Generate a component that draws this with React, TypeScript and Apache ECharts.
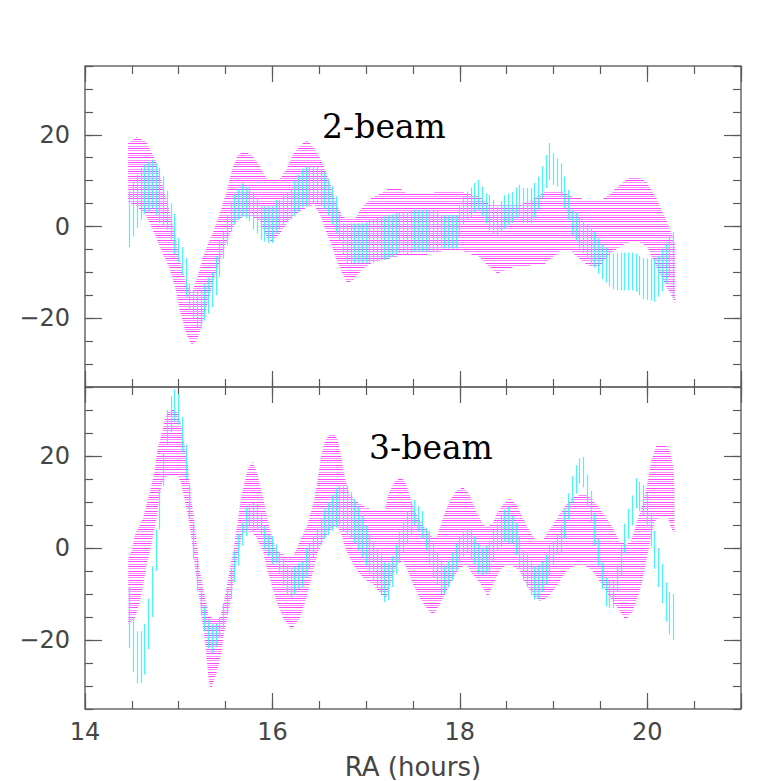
import React, { useEffect, useRef } from "react";
import * as echarts from "echarts";

// ---------------- axes / texts ----------------
const X_MIN = 14;
const X_MAX = 21;
const Y_MIN = -35;
const Y_MAX = 35;
const X_LABEL_TICKS = [14, 16, 18, 20];
const Y_LABEL_TICKS = [-20, 0, 20];
const PANEL_TITLES = ["2-beam", "3-beam"];
const X_AXIS_NAME = "RA (hours)";

// ---------------- magenta band, top panel (2-beam) ----------------
const TOP_BAND_X = [14.46, 14.55, 14.65, 14.75, 14.82, 14.89, 14.96, 15.01, 15.08, 15.14, 15.2, 15.26, 15.32, 15.37, 15.44, 15.51, 15.57, 15.63, 15.69, 15.78, 15.87, 15.94, 16.0, 16.08, 16.15, 16.22, 16.31, 16.37, 16.45, 16.52, 16.58, 16.63, 16.68, 16.74, 16.8, 16.87, 16.95, 17.05, 17.15, 17.25, 17.35, 17.45, 17.6, 17.8, 18.0, 18.2, 18.3, 18.4, 18.5, 18.6, 18.75, 18.9, 19.0, 19.1, 19.2, 19.3, 19.4, 19.5, 19.6, 19.7, 19.8, 19.9, 20.0, 20.1, 20.2, 20.27, 20.3];
const TOP_BAND_UPPER = [18.0, 19.6, 18.4, 14.6, 9.5, 4.4, -1.5, -7.0, -12.5, -14.5, -11, -6.5, -3.5, -1, 3, 7.5, 12.5, 15.5, 16.5, 15.6, 13, 10.5, 10.2, 10.5, 12.4, 15.9, 17.8, 18.7, 17, 14.5, 11.5, 8.5, 5, 2.5, 1.5, 1.5, 4, 6, 7.2, 8.3, 8.3, 7.2, 7.0, 7.8, 7.8, 6.5, 5.0, 4.5, 4.5, 4.5, 5.5, 7.5, 7.8, 7.5, 6.5, 6.0, 5.5, 5.5, 7.0, 9.0, 10.5, 10.9, 9.5, 6, 1.5, -2, -4];
const TOP_BAND_LOWER = [5.3, 4.5, 2.5, -2.0, -5.5, -8.5, -13, -18.2, -23.4, -25.9, -24.5, -20.5, -16, -12, -7.5, -3.5, -0.5, 1.5, 2.2, 2.2, 1, -2.5, -3.3, -1.5, 0.5, 2.2, 3.5, 4.3, 4.6, 2, -1.5, -4, -7, -10, -12.4, -11.5, -9.5, -8.0, -7.5, -7.0, -6.4, -6.2, -6.2, -5.5, -5.2, -6.5, -8.5, -10.2, -9.3, -8.8, -8.5, -8.2, -6.5, -5.0, -5.5, -7.5, -8.8, -8.5, -6, -4.5, -3.5, -3.2, -4.5, -9, -13, -15.5, -17];

// ---------------- magenta band, bottom panel (3-beam) ----------------
const BOT_UPPER_X = [14.462, 14.497, 14.533, 14.622, 14.664, 14.711, 14.746, 14.771, 14.817, 14.853, 14.888, 14.942, 14.995, 15.03, 15.048, 15.084, 15.101, 15.119, 15.137, 15.162, 15.183, 15.201, 15.219, 15.254, 15.29, 15.315, 15.368, 15.439, 15.482, 15.517, 15.546, 15.581, 15.606, 15.635, 15.659, 15.695, 15.741, 15.787, 15.83, 15.866, 15.908, 15.944, 15.99, 16.043, 16.15, 16.221, 16.292, 16.363, 16.434, 16.487, 16.523, 16.559, 16.612, 16.658, 16.701, 16.736, 16.772, 16.825, 16.896, 17.003, 17.109, 17.198, 17.234, 17.305, 17.376, 17.429, 17.483, 17.536, 17.625, 17.713, 17.749, 17.82, 17.891, 17.962, 18.033, 18.104, 18.175, 18.246, 18.3, 18.353, 18.389, 18.46, 18.531, 18.602, 18.673, 18.744, 18.815, 18.886, 18.922, 18.993, 19.064, 19.135, 19.206, 19.277, 19.348, 19.419, 19.49, 19.561, 19.632, 19.703, 19.775, 19.828, 19.881, 19.952, 20.006, 20.041, 20.094, 20.183, 20.237, 20.272, 20.29];
const BOT_UPPER_Y = [-2.1, -0.7, 2.9, 6.6, 10.2, 13.8, 17.4, 21.1, 24.7, 28.3, 29.7, 30.1, 29.4, 26.1, 23.9, 20.3, 17.4, 13.8, 10.2, 6.6, 2.9, -0.7, -4.3, -7.9, -11.6, -14.5, -15.2, -15.2, -11.6, -7.9, -4.3, -0.7, 2.9, 6.6, 10.2, 13.8, 17.4, 18.7, 16.7, 13.8, 10.2, 6.6, 2.9, -0.7, -1.8, -1.8, 1.5, 4.5, 9.5, 15.3, 20.3, 23.2, 24.7, 24.9, 23.2, 19.6, 15.3, 11.6, 10.2, 8.7, 8.0, 8.0, 11.6, 14.5, 15.5, 13.8, 10.2, 7.3, 4.4, 2.2, 2.2, 6.6, 10.2, 12.4, 13.3, 11.6, 8.0, 5.1, 4.8, 5.5, 7.3, 9.5, 10.9, 9.5, 6.6, 3.7, 1.5, 1.5, 2.9, 5.1, 7.3, 9.5, 10.9, 11.6, 11.6, 10.5, 8.7, 6.6, 4.4, 1.5, 0.8, 1.5, 5.1, 9.5, 14.5, 18.9, 22.1, 22.5, 21.4, 18.2, 13.8];
const BOT_LOWER_X = [14.462, 14.533, 14.586, 14.622, 14.65, 14.693, 14.728, 14.764, 14.792, 14.817, 14.853, 14.888, 14.995, 15.03, 15.066, 15.101, 15.13, 15.155, 15.173, 15.197, 15.226, 15.244, 15.269, 15.29, 15.308, 15.325, 15.35, 15.421, 15.457, 15.482, 15.517, 15.553, 15.581, 15.606, 15.642, 15.677, 15.723, 15.812, 15.901, 15.937, 15.99, 16.043, 16.114, 16.203, 16.292, 16.363, 16.434, 16.487, 16.541, 16.612, 16.683, 16.736, 16.79, 16.861, 16.967, 17.074, 17.163, 17.216, 17.269, 17.323, 17.394, 17.447, 17.5, 17.571, 17.642, 17.713, 17.785, 17.856, 17.927, 17.998, 18.069, 18.14, 18.211, 18.264, 18.3, 18.353, 18.424, 18.495, 18.566, 18.637, 18.708, 18.78, 18.851, 18.922, 18.993, 19.064, 19.135, 19.206, 19.277, 19.348, 19.419, 19.49, 19.561, 19.632, 19.703, 19.768, 19.846, 19.917, 19.97, 20.023, 20.077, 20.148, 20.219, 20.254, 20.29];
const BOT_LOWER_Y = [-16.6, -15.2, -11.6, -7.9, -4.3, -0.7, 2.9, 6.6, 10.2, 13.8, 15.3, 15.6, 15.6, 13.8, 10.2, 6.6, 2.9, -0.7, -4.3, -7.9, -11.6, -15.2, -18.8, -22.4, -26.0, -29.7, -30.4, -26.0, -22.4, -18.8, -15.2, -11.6, -7.9, -4.3, -0.7, 2.9, 3.7, 2.9, -0.7, -4.3, -7.9, -11.6, -15.2, -17.7, -15.2, -10.8, -5.0, -0.7, 1.5, 3.7, 5.1, 2.9, -0.7, -3.6, -6.5, -7.9, -10.1, -10.8, -7.2, -3.6, -2.9, -5.0, -7.9, -10.8, -13.0, -14.5, -12.3, -9.4, -6.5, -4.3, -3.6, -5.8, -7.5, -9.4, -10.5, -7.9, -5.0, -3.6, -3.9, -5.0, -7.9, -10.1, -11.6, -10.9, -9.4, -7.2, -5.0, -4.0, -4.0, -4.0, -5.0, -7.2, -9.4, -11.6, -13.7, -15.5, -13.7, -9.4, -5.0, 0.8, 5.8, 6.9, 6.5, 4.4, 2.9];

// ---------------- cyan error bars (x = CYAN_START + i * CYAN_STEP) ----------------
const CYAN_START = 14.48;
const CYAN_STEP = 0.04;
const TOP_CYAN_HI = [7.8, 9.8, 11.3, 12.8, 13.6, 14.1, 14.6, 13.8, 12.8, 11.0, 7.8, 5.1, 2.8, -2.5, -4.5, -6.9, -12.4, -13.9, -13.9, -14.0, -12.5, -11.2, -10.0, -6.5, -3.2, -1.2, 2.5, 5.3, 7.0, 8.2, 9.4, 8.6, 8.3, 7.3, 6.0, 4.4, 4.4, 4.4, 4.4, 5.8, 5.8, 6.8, 7.3, 8.0, 10.0, 11.3, 12.6, 13.1, 13.1, 13.1, 13.1, 12.5, 11.9, 10.4, 8.8, 6.6, 2.9, 0.7, 0.7, 0.7, 0.7, 0.7, 0.7, 0.9, 1.4, 1.4, 1.8, 2.2, 2.2, 2.5, 2.6, 2.9, 3.0, 3.1, 3.2, 3.5, 3.6, 3.6, 3.6, 3.6, 3.6, 3.6, 3.4, 2.5, 2.5, 2.5, 2.5, 2.5, 4.7, 6.5, 7.6, 8.5, 9.5, 10.2, 8.7, 7.2, 6.9, 5.8, 4.3, 5.5, 6.8, 7.2, 7.5, 8.5, 9.1, 8.4, 8.4, 8.4, 9.5, 10.9, 13.1, 15.6, 18.2, 16.0, 14.9, 13.8, 10.9, 8.0, 3.6, 3.2, 2.0, 1.2, 0.5, -0.3, -1.2, -2.6, -3.8, -4.6, -5.4, -6.0, -5.9, -5.7, -5.7, -5.7, -5.7, -5.9, -6.4, -6.9, -7.0, -7.0, -7.0, -6.4, -5.0, -3.7, -1.9, -1.2];
const TOP_CYAN_LO = [-4.5, -2.2, -0.3, 1.5, 2.8, 3.2, 4.0, 2.5, 0.7, 0, -0.7, -2.9, -6.0, -7.8, -10.5, -15.3, -18.2, -20.0, -22.0, -22.3, -20.5, -19.0, -17.6, -15.0, -11.0, -7.0, -4.0, -1.0, 0.5, 1.4, 2.1, 1.8, 1.2, -0.7, -1.5, -2.9, -3.3, -3.6, -3.6, -1.5, -0.7, 0.2, 0.9, 1.6, 2.2, 3.2, 4.2, 4.4, 4.8, 5.0, 5.1, 4.4, 3.7, 2.4, 0.5, -1.5, -2.9, -6.0, -8.0, -8.0, -8.0, -8.0, -8.0, -8.0, -8.0, -8.0, -7.6, -7.3, -7.3, -7.0, -6.6, -6.0, -5.8, -5.8, -6.0, -5.8, -5.5, -5.5, -5.5, -5.5, -5.5, -5.5, -5.3, -4.8, -4.8, -4.8, -4.8, -4.8, -2.2, 0.5, 1.4, 2.0, 3.0, 3.6, 2.2, 0.7, -0.8, -1.5, -2.2, -1.2, -0.5, 0.3, 0.8, 1.8, 2.2, 0.7, 0.7, 0.7, 1.8, 3.6, 6.2, 8.4, 10.2, 9.1, 8.7, 6.5, 4.0, 1.4, -1.9, -3.2, -4.8, -5.8, -6.8, -8.3, -9.0, -10.3, -11.5, -12.2, -13.0, -13.7, -13.9, -13.9, -13.9, -13.9, -13.9, -14.2, -15.0, -15.8, -16.0, -16.2, -16.4, -15.3, -14.1, -12.4, -11.0, -15.5];
const BOT_CYAN_HI = [-8.5, -15.0, -18.1, -18.1, -16.5, -11.0, -4.0, 4.0, 13.0, 20.5, 30.0, 33.0, 34.5, 33.5, 28.5, 22.5, 13.5, 5.5, -2.0, -8.5, -12.6, -15.6, -16.6, -16.4, -15.0, -12.0, -8.5, -4.5, -0.7, 3.0, 5.4, 8.8, 9.5, 9.8, 9.5, 7.3, 4.8, 2.9, 2.6, 0.8, -0.8, -1.8, -3.8, -4.3, -4.0, -3.3, -2.9, 0.0, 1.0, 2.6, 4.2, 6.5, 8.4, 10.0, 11.6, 13.1, 13.4, 13.4, 13.6, 12.1, 10.6, 9.0, 7.0, 4.9, 3.0, 1.5, 0.0, -1.6, -3.1, -3.2, -1.7, 0.7, 3.4, 5.6, 8.0, 10.2, 10.4, 9.1, 8.0, 4.4, 3.8, 1.0, -0.8, -3.0, -3.8, -2.8, -1.0, 1.0, 2.5, 3.4, 4.2, 3.8, 2.4, 1.0, 0.0, 0.5, 1.6, 3.9, 5.2, 7.0, 8.3, 9.0, 7.0, 5.5, 2.5, -0.5, -1.6, -3.2, -4.0, -3.8, -3.0, -1.5, 0.6, 1.5, 3.0, 5.2, 8.4, 11.9, 15.6, 18.0, 19.5, 19.8, 16.0, 12.4, 7.5, 2.0, -3.2, -6.5, -7.2, -7.2, -3.8, 0.3, 5.3, 8.5, 11.4, 15.2, 14.4, 13.7, 12.0, 7.6, 3.8, 0.0, -3.5, -7.5, -9.6, -10.0];
const BOT_CYAN_LO = [-21.8, -27.0, -29.5, -29.3, -27.5, -22.0, -15.0, -5.0, 4.0, 13.5, 22.5, 25.2, 27.5, 26.8, 20.8, 15.0, 6.5, -2.3, -9.3, -14.7, -18.0, -21.8, -22.8, -21.3, -19.5, -17.6, -14.5, -11.0, -7.4, -3.8, 0.5, 2.6, 5.0, 3.7, 4.0, 2.9, -0.3, -1.8, -3.5, -3.3, -5.5, -8.3, -10.3, -10.8, -10.2, -9.0, -8.5, -6.5, -4.5, -2.0, -0.2, 0.7, 2.0, 2.8, 3.7, 4.4, 5.1, 3.6, 2.8, 2.0, 1.1, -0.4, -1.9, -3.8, -5.7, -7.2, -8.7, -10.3, -11.8, -11.3, -8.5, -5.6, -3.2, -0.9, 0.8, 2.9, 5.0, 3.7, 2.0, -0.5, -3.5, -6.3, -8.0, -10.0, -10.0, -8.6, -7.1, -4.9, -3.2, -1.8, -0.9, -2.5, -3.5, -5.6, -5.8, -5.5, -5.6, -3.0, -0.6, 0.3, 1.4, 1.0, 1.0, -1.5, -4.5, -7.0, -8.5, -10.3, -11.2, -11.0, -9.6, -8.0, -6.0, -3.6, -1.4, -1.2, 2.0, 6.2, 9.8, 11.9, 14.0, 13.2, 9.2, 5.5, 0.6, -3.8, -9.0, -12.7, -13.0, -13.0, -9.5, -5.8, -1.1, 2.0, 4.9, 8.6, 8.0, 7.2, 4.7, 0.3, -4.5, -8.5, -12.0, -16.0, -18.8, -20.0];

// ---------------- styling ----------------
const HATCH_STEP = 0.5; // data units between horizontal hatch lines
const MAGENTA = "#ff3cff";
const CYAN = "#38f2ff";
const FRAME = "#6a6a6a";
const TICK = "#5a5a5a";
const LABEL = "#454545";
const SANS = '"DejaVu Sans", "Liberation Sans", sans-serif';
const SERIF = '"DejaVu Serif", "Liberation Serif", serif';

function cyanX(i: number) {
  return Math.round((CYAN_START + i * CYAN_STEP) * 1000) / 1000;
}

function bandRenderer(ux: number[], uy: number[], lx: number[], ly: number[]) {
  return (params: any, api: any) => {
    if (params.dataIndex !== 0) return null;
    const pts: number[][] = [];
    for (let i = 0; i < ux.length; i++) pts.push(api.coord([ux[i], uy[i]]));
    for (let i = lx.length - 1; i >= 0; i--) pts.push(api.coord([lx[i], ly[i]]));
    const vmin = Math.min(...ly, ...uy);
    const vmax = Math.max(...ly, ...uy);
    const k0 = Math.ceil(vmin / HATCH_STEP);
    const k1 = Math.floor(vmax / HATCH_STEP);
    const children: any[] = [];
    for (let k = k0; k <= k1; k++) {
      const v = k * HATCH_STEP;
      const yPx = api.coord([X_MIN, v])[1];
      const ySnap = Math.round(yPx - 0.5) + 0.5;
      const xs: number[] = [];
      for (let i = 0; i < pts.length; i++) {
        const a = pts[i];
        const b = pts[(i + 1) % pts.length];
        if ((a[1] <= yPx && b[1] > yPx) || (b[1] <= yPx && a[1] > yPx)) {
          xs.push(a[0] + ((yPx - a[1]) * (b[0] - a[0])) / (b[1] - a[1]));
        }
      }
      xs.sort((p, q) => p - q);
      for (let j = 0; j + 1 < xs.length; j += 2) {
        children.push({
          type: "line",
          shape: { x1: xs[j], y1: ySnap, x2: xs[j + 1], y2: ySnap },
          style: { stroke: MAGENTA, lineWidth: 1, opacity: k % 2 === 0 ? 0.95 : 0.6 },
        });
      }
    }
    return { type: "group", children };
  };
}

function barRenderer(params: any, api: any) {
  const x = api.value(0);
  const p1 = api.coord([x, api.value(1)]);
  const p2 = api.coord([x, api.value(2)]);
  const xs = Math.round(p1[0] - 0.5) + 0.5;
  return {
    type: "line",
    shape: { x1: xs, y1: p1[1], x2: xs, y2: p2[1] },
    style: { stroke: CYAN, lineWidth: 1.2, opacity: 0.9 },
  };
}

function makeXAxes(grid: number, withLabels: boolean) {
  const list: any[] = [];
  for (const position of ["bottom", "top"]) {
    const base = {
      type: "value",
      gridIndex: grid,
      position,
      min: X_MIN,
      max: X_MAX,
      axisLine: { show: false, onZero: false },
      splitLine: { show: false },
    };
    list.push({
      ...base,
      interval: 0.5,
      axisTick: { show: true, inside: true, length: 8, lineStyle: { color: TICK, width: 1.2 } },
      axisLabel: { show: false },
    });
    const major: any = {
      ...base,
      interval: 2,
      axisTick: { show: true, inside: true, length: 16, lineStyle: { color: TICK, width: 1.2 } },
      axisLabel: { show: false },
    };
    if (withLabels && position === "bottom") {
      major.axisLabel = {
        show: true,
        margin: 11,
        fontSize: 24,
        fontFamily: SANS,
        color: LABEL,
        formatter: (v: number) => (X_LABEL_TICKS.indexOf(v) >= 0 ? String(v) : ""),
      };
      major.name = X_AXIS_NAME;
      major.nameLocation = "middle";
      major.nameGap = 45;
      major.nameTextStyle = { fontSize: 26, fontFamily: SANS, color: LABEL };
    }
    list.push(major);
  }
  return list;
}

function makeYAxes(grid: number) {
  const list: any[] = [];
  for (const position of ["left", "right"]) {
    const base = {
      type: "value",
      gridIndex: grid,
      position,
      min: Y_MIN,
      max: Y_MAX,
      axisLine: { show: false, onZero: false },
      splitLine: { show: false },
    };
    list.push({
      ...base,
      interval: 5,
      axisTick: { show: true, inside: true, length: 8, lineStyle: { color: TICK, width: 1.2 } },
      axisLabel: { show: false },
    });
    list.push({
      ...base,
      interval: 5,
      axisTick: {
        show: true,
        inside: true,
        length: 17,
        customValues: Y_LABEL_TICKS,
        lineStyle: { color: TICK, width: 1.2 },
      },
      axisLabel:
        position === "left"
          ? {
              show: true,
              customValues: Y_LABEL_TICKS,
              margin: 15,
              fontSize: 24,
              fontFamily: SANS,
              color: LABEL,
              formatter: (v: number) => (v < 0 ? "\u2212" + Math.abs(v) : String(v)),
            }
          : { show: false },
    });
  }
  return list;
}

export default function App() {
  const ref = useRef<HTMLDivElement>(null);

  useEffect(() => {
    if (!ref.current) return;
    const chart = echarts.init(ref.current, undefined, { renderer: "svg" });

    const topBars = TOP_CYAN_HI.map((hi, i) => [cyanX(i), TOP_CYAN_LO[i], hi]);
    const botBars = BOT_CYAN_HI.map((hi, i) => [cyanX(i), BOT_CYAN_LO[i], hi]);

    const option: any = {
      animation: false,
      backgroundColor: "#ffffff",
      grid: [
        { left: 85, right: 40, top: 66, height: 321, show: true, borderColor: FRAME, borderWidth: 1.5, backgroundColor: "transparent" },
        { left: 85, right: 40, top: 387, height: 322, show: true, borderColor: FRAME, borderWidth: 1.5, backgroundColor: "transparent" },
      ],
      xAxis: [...makeXAxes(0, false), ...makeXAxes(1, true)],
      yAxis: [...makeYAxes(0), ...makeYAxes(1)],
      series: [
        {
          type: "custom",
          name: "band-2beam",
          xAxisIndex: 0,
          yAxisIndex: 0,
          data: [[TOP_BAND_X[0], TOP_BAND_UPPER[0]]],
          encode: { x: 0, y: 1 },
          renderItem: bandRenderer(TOP_BAND_X, TOP_BAND_UPPER, TOP_BAND_X, TOP_BAND_LOWER),
          z: 2,
          silent: true,
        },
        {
          type: "custom",
          name: "bars-2beam",
          xAxisIndex: 0,
          yAxisIndex: 0,
          data: topBars,
          encode: { x: 0, y: [1, 2] },
          renderItem: barRenderer,
          z: 3,
          silent: true,
        },
        {
          type: "custom",
          name: "band-3beam",
          xAxisIndex: 4,
          yAxisIndex: 4,
          data: [[BOT_UPPER_X[0], BOT_UPPER_Y[0]]],
          encode: { x: 0, y: 1 },
          renderItem: bandRenderer(BOT_UPPER_X, BOT_UPPER_Y, BOT_LOWER_X, BOT_LOWER_Y),
          z: 2,
          silent: true,
        },
        {
          type: "custom",
          name: "bars-3beam",
          xAxisIndex: 4,
          yAxisIndex: 4,
          data: botBars,
          encode: { x: 0, y: [1, 2] },
          renderItem: barRenderer,
          z: 3,
          silent: true,
        },
      ],
      graphic: [
        {
          type: "text",
          x: 384,
          y: 126,
          z: 10,
          style: {
            text: PANEL_TITLES[0],
            font: `33px ${SERIF}`,
            fill: "#000",
            align: "center",
            verticalAlign: "middle",
            textAlign: "center",
            textVerticalAlign: "middle",
          },
        },
        {
          type: "text",
          x: 431,
          y: 447,
          z: 10,
          style: {
            text: PANEL_TITLES[1],
            font: `33px ${SERIF}`,
            fill: "#000",
            align: "center",
            verticalAlign: "middle",
            textAlign: "center",
            textVerticalAlign: "middle",
          },
        },
      ],
    };

    chart.setOption(option);
    return () => chart.dispose();
  }, []);

  return (
    <div
      ref={ref}
      style={{ position: "fixed", left: 0, top: 0, width: 781, height: 781, background: "#fff" }}
    />
  );
}
